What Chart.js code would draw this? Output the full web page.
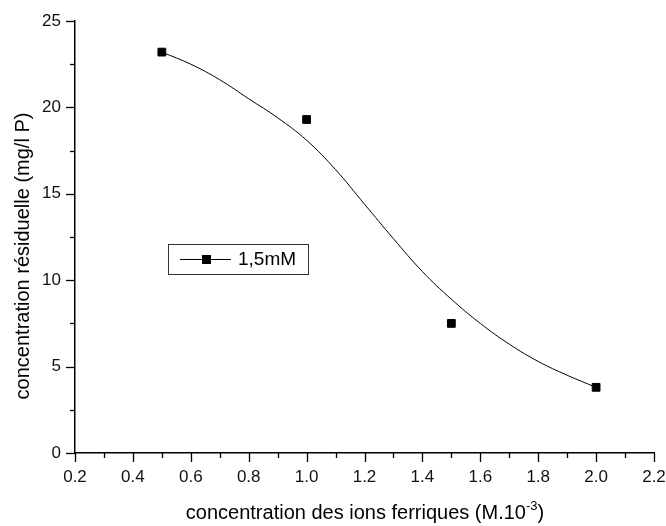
<!DOCTYPE html>
<html>
<head>
<meta charset="utf-8">
<script src="https://cdn.jsdelivr.net/npm/chart.js@4/dist/chart.umd.min.js"></script>
<style>
  html, body { margin: 0; padding: 0; background: #fff; }
  #wrap { width: 666px; height: 526px; }
</style>
</head>
<body>
<div id="wrap"><canvas id="chart" width="666" height="526"></canvas></div>
<script>
// measured points
const ferricConc = [0.5, 1.0, 1.5, 2.0];
const residual = [23.2, 19.3, 7.5, 3.8];

// fitted curve
const fitX = [0.5, 0.6, 0.7, 0.8, 0.9, 1.0, 1.1, 1.2, 1.3, 1.4, 1.5, 1.6, 1.7, 1.8, 1.9, 2.0];
const fitY = [23.2, 22.5, 21.6, 20.5, 19.4, 18.1, 16.4, 14.4, 12.4, 10.5, 8.9, 7.5, 6.3, 5.3, 4.5, 3.8];

const xTicks = [0.2, 0.4, 0.6, 0.8, 1.0, 1.2, 1.4, 1.6, 1.8, 2.0, 2.2];
const yTicks = [0, 5, 10, 15, 20, 25];
const seriesLabel = '1,5mM';

const FONT = '"Liberation Sans", Arial, sans-serif';

// draw outward major/minor ticks, axis titles and the boxed legend
const decorPlugin = {
    id: 'decor',
    afterDraw(chart) {
        const ctx = chart.ctx;
        const xs = chart.scales.x, ys = chart.scales.y;
        const area = chart.chartArea;
        ctx.save();
        ctx.strokeStyle = '#000';
        ctx.lineWidth = 1.3;
        // x ticks
        for (let i = 0; i <= 20; i++) {
            const v = 0.2 + i * 0.1;
            const px = Math.round(xs.getPixelForValue(v)) + 0.5;
            const len = i % 2 === 0 ? 9 : 5;
            ctx.beginPath();
            ctx.moveTo(px, area.bottom);
            ctx.lineTo(px, area.bottom + len);
            ctx.stroke();
        }
        // y ticks
        for (let i = 0; i <= 10; i++) {
            const v = i * 2.5;
            const py = Math.round(ys.getPixelForValue(v)) + 0.5;
            const len = i % 2 === 0 ? 9 : 5;
            ctx.beginPath();
            ctx.moveTo(area.left, py);
            ctx.lineTo(area.left - len, py);
            ctx.stroke();
        }

        // x title with superscript
        ctx.fillStyle = '#000';
        ctx.textBaseline = 'alphabetic';
        const main = 'concentration des ions ferriques (M.10';
        const sup = '-3';
        const end = ')';
        ctx.font = '20px ' + FONT;
        const wMain = ctx.measureText(main).width;
        const wEnd = ctx.measureText(end).width;
        ctx.font = '13px ' + FONT;
        const wSup = ctx.measureText(sup).width;
        let x0 = 365 - (wMain + wSup + wEnd) / 2;
        const base = 519;
        ctx.font = '20px ' + FONT;
        ctx.textAlign = 'left';
        ctx.fillText(main, x0, base);
        ctx.font = '13px ' + FONT;
        ctx.fillText(sup, x0 + wMain, base - 9);
        ctx.font = '20px ' + FONT;
        ctx.fillText(end, x0 + wMain + wSup, base);

        // y title
        ctx.save();
        ctx.translate(29, 256);
        ctx.rotate(-Math.PI / 2);
        ctx.textAlign = 'center';
        ctx.font = '20px ' + FONT;
        ctx.fillText('concentration résiduelle (mg/l P)', 0, 0);
        ctx.restore();

        // legend box
        ctx.lineWidth = 1;
        ctx.strokeStyle = '#333';
        ctx.strokeRect(168.5, 244.5, 140, 30);
        ctx.strokeStyle = '#000';
        ctx.beginPath();
        ctx.moveTo(180, 259.5);
        ctx.lineTo(231, 259.5);
        ctx.stroke();
        ctx.fillRect(202, 255, 9, 9);
        ctx.font = '19px ' + FONT;
        ctx.textAlign = 'left';
        ctx.textBaseline = 'middle';
        ctx.fillText(seriesLabel, 238, 260);
        ctx.restore();
    }
};

new Chart(document.getElementById('chart'), {
    type: 'scatter',
    data: {
        datasets: [{
            label: 'fit',
            data: fitX.map((x, i) => ({ x: x, y: fitY[i] })),
            showLine: true,
            borderColor: '#000',
            borderWidth: 1,
            pointRadius: 0,
            tension: 0.4,
            fill: false
        }, {
            label: seriesLabel,
            data: ferricConc.map((x, i) => ({ x: x, y: residual[i] })),
            showLine: false,
            pointStyle: 'rect',
            pointRadius: 5.5,
            pointBackgroundColor: '#000',
            pointBorderColor: '#000',
            pointBorderWidth: 1
        }]
    },
    options: {
        responsive: false,
        animation: false,
        events: [],
        layout: { padding: { left: 0, right: 12, top: 21, bottom: 0 } },
        plugins: {
            legend: { display: false },
            tooltip: { enabled: false }
        },
        scales: {
            x: {
                type: 'linear',
                min: 0.2,
                max: 2.2,
                afterFit(scale) {
                    scale.height = 73;
                    scale.paddingLeft = 0;
                    scale.paddingRight = 0;
                },
                afterBuildTicks(scale) { scale.ticks = xTicks.map(v => ({ value: v })); },
                grid: { display: false, drawTicks: false },
                border: { display: true, color: '#000', width: 1.5 },
                ticks: {
                    padding: 14,
                    color: '#111',
                    font: { family: FONT, size: 17 },
                    callback: v => v.toFixed(1)
                }
            },
            y: {
                min: 0,
                max: 25,
                afterFit(scale) {
                    scale.width = 75;
                    scale.paddingTop = 0;
                    scale.paddingBottom = 0;
                },
                afterBuildTicks(scale) { scale.ticks = yTicks.map(v => ({ value: v })); },
                grid: { display: false, drawTicks: false },
                border: { display: true, color: '#000', width: 1.5 },
                ticks: {
                    padding: 14,
                    color: '#111',
                    font: { family: FONT, size: 17 },
                    callback: v => String(v)
                }
            }
        }
    },
    plugins: [decorPlugin]
});
</script>
</body>
</html>
